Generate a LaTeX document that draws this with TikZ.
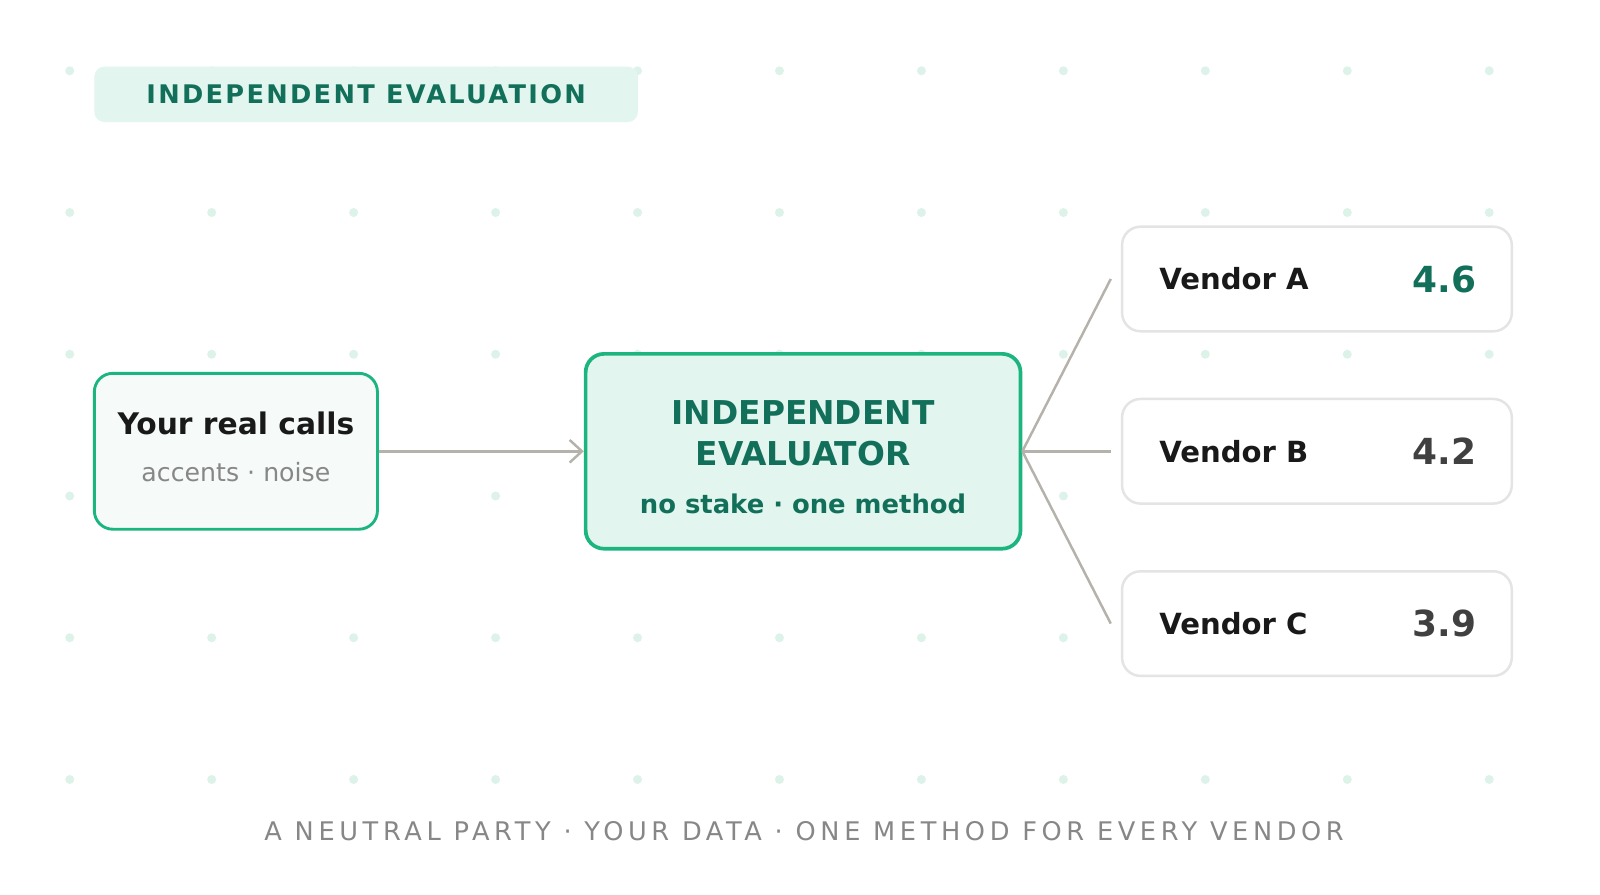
\documentclass[tikz,border=0pt]{standalone}
\usepackage{fontspec}
\setmainfont{DejaVu Sans}
\newfontfamily\tagfont[LetterSpace=9]{DejaVu Sans}
\newfontfamily\captionfont[LetterSpace=18]{DejaVu Sans}
\usetikzlibrary{positioning}
\usetikzlibrary{arrows.meta}

\definecolor{deepgreen}{HTML}{12705A}
\definecolor{brightgreen}{HTML}{1DB57F}
\definecolor{mintfill}{HTML}{E2F5EE}
\definecolor{palefill}{HTML}{F6FBF9}
\definecolor{dotgreen}{HTML}{DDF3EA}
\definecolor{linegray}{HTML}{B5B2AC}
\definecolor{boxgray}{HTML}{E4E4E4}
\definecolor{textgray}{HTML}{878787}

\tikzset{
  vendor/.style={draw=boxgray, line width=1.2pt, fill=white, rounded corners=9pt,
    minimum width=190pt, minimum height=51pt},
  feed/.style={draw=linegray, line width=1.2pt}
}

\begin{document}
\begin{tikzpicture}[x=0.5pt, y=-0.5pt]
  \useasboundingbox (0,0) rectangle (1560,872);
  \fill[white] (0,0) rectangle (1560,872);

  % background dots
  \foreach \i in {0,...,10} {
    \foreach \j in {0,...,5} {
      \fill[dotgreen] ({68+138.4*\i},{69+138.2*\j}) circle (2.2pt);
    }
  }

  % header tag
  \node[fill=mintfill, rounded corners=5pt, minimum width=265pt, minimum height=27pt,
    inner sep=0pt] (tag) at (357,92) {};
  \node[text=deepgreen, font=\tagfont\bfseries\fontsize{12.5}{14}\selectfont] (tagtext) at (357,92) {INDEPENDENT EVALUATION};

  % input
  \node[draw=brightgreen, fill=palefill, line width=1.4pt, rounded corners=9pt,
    minimum width=138pt, minimum height=76pt] (calls) at (230,440) {};
  \node[font=\bfseries\fontsize{14.5}{16}\selectfont, text=black!90] (callstitle) at (230,413) {Your real calls};
  \node[font=\fontsize{12.3}{14}\selectfont, text=textgray] (callssub) at (230,460) {accents · noise};

  % evaluator
  \node[draw=brightgreen, fill=mintfill, line width=1.8pt, rounded corners=9pt,
    minimum width=212pt, minimum height=95pt] (eval) at (783,440) {};
  \node[font=\bfseries\fontsize{16}{20}\selectfont, text=deepgreen, align=center] (evaltitle) at (783,422) {INDEPENDENT\\EVALUATOR};
  \node[font=\bfseries\fontsize{12.6}{14}\selectfont, text=deepgreen] (evalsub) at (783,491) {no stake · one method};

  \draw[feed, -{Straight Barb[length=6pt, width=11pt, line width=1.2pt]}] (calls.east) -- (eval.west);

  % vendors
  \foreach \name/\y/\score/\col in {A/272/4.6/deepgreen, B/440/4.2/black!75, C/608/3.9/black!75} {
    \node[vendor] (v\name) at (1284,\y) {};
    \node[font=\bfseries\fontsize{14.2}{15}\selectfont, text=black!90, anchor=west, inner sep=0pt] (l\name) at (1130,\y) {Vendor \name};
    \node[font=\bfseries\fontsize{17.5}{20}\selectfont, text=\col, anchor=east, inner sep=0pt] (s\name) at (1440,\y) {\score};
    \coordinate (e\name) at (1083,\y);
    \draw[feed] (eval.east) -- (e\name);
  }

  % caption
  \node[font=\captionfont\fontsize{12.5}{14}\selectfont, text=textgray] (caption) at (784,810) {A NEUTRAL PARTY · YOUR DATA · ONE METHOD FOR EVERY VENDOR};
\end{tikzpicture}
\end{document}
